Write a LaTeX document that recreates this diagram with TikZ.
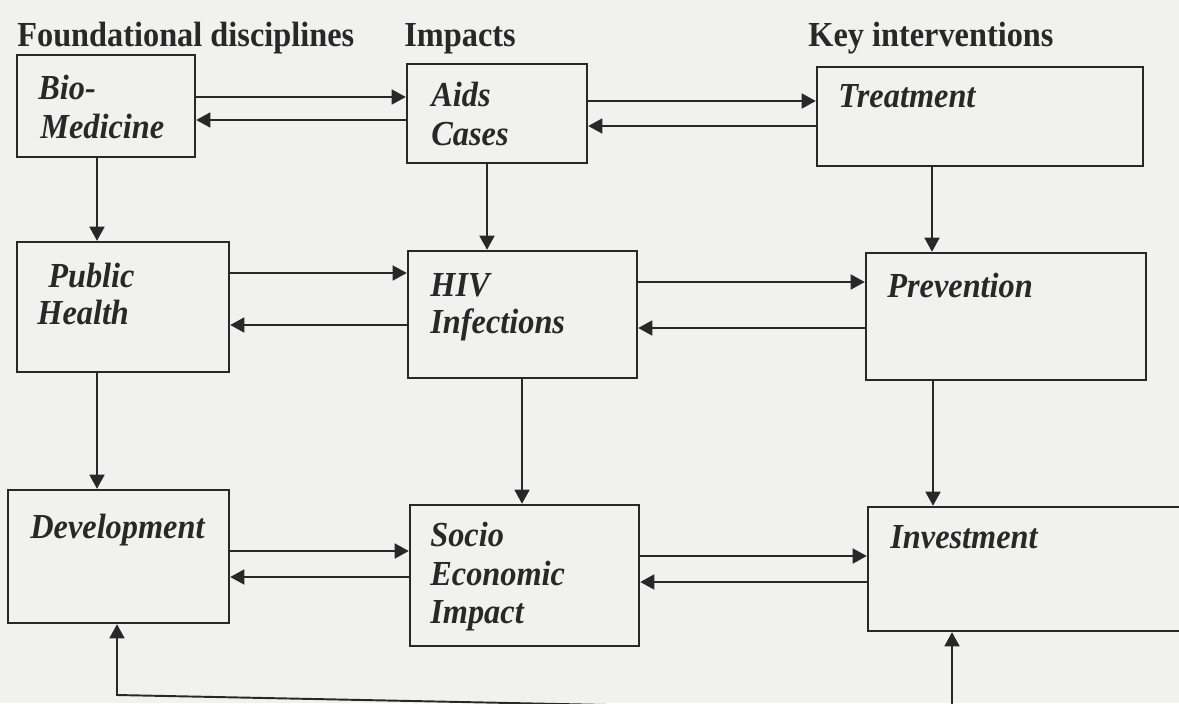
\documentclass[tikz,border=0pt]{standalone}
\usepackage{fontspec}
\setmainfont{Liberation Serif}[FakeStretch=0.92]
\usetikzlibrary{arrows.meta,fit}
\definecolor{paper}{RGB}{241,241,240}
\definecolor{ink}{RGB}{40,40,40}
\tikzset{
  box/.style={draw=ink, line width=1.4pt, inner sep=0pt},
  lbl/.style={anchor=base west, inner sep=0pt, text=ink, font=\fontsize{20}{24}\selectfont\bfseries\itshape},
  hdr/.style={anchor=base west, inner sep=0pt, text=ink, font=\fontsize{20}{24}\selectfont\bfseries},
  tip/.style={Triangle[length=8pt,width=8.5pt]},
  arr/.style={draw=ink, line width=1.1pt, -{Triangle[length=8pt,width=8.5pt]}},
  arr2/.style={draw=ink, line width=1.1pt, {Triangle[length=8pt,width=8.5pt]}-{Triangle[length=8pt,width=8.5pt]}}
}
\begin{document}
\begin{tikzpicture}[x=0.02cm,y=-0.02cm]
\useasboundingbox (0,0) rectangle (1179,703);
\clip (0,0) rectangle (1179,703);
\fill[paper] (0,0) rectangle (1179,703);

% headers
\node[hdr] (h1) at (17,46) {Foundational disciplines};
\node[hdr] (h2) at (404,46) {Impacts};
\node[hdr] (h3) at (808,46) {Key interventions};

% boxes
\node[box, fit={(17,55) (195,157)}] (bio) {};
\node[box, fit={(407,64) (587,163)}] (aids) {};
\node[box, fit={(817,67) (1143,166)}] (treat) {};
\node[box, fit={(17,242) (229,372)}] (pub) {};
\node[box, fit={(408,251) (637,378)}] (hiv) {};
\node[box, fit={(866,253) (1146,380)}] (prev) {};
\node[box, fit={(8,490) (229,623)}] (dev) {};
\node[box, fit={(410,505) (639,646)}] (socio) {};
\node[box, fit={(868,507) (1200,631)}] (inv) {};

% labels
\node[lbl] (bio1) at (38,99) {Bio-};
\node[lbl] (bio2) at (40,138) {Medicine};
\node[lbl] (aids1) at (431,106) {Aids};
\node[lbl] (aids2) at (431,145) {Cases};
\node[lbl] (treat1) at (838,107) {Treatment};
\node[lbl] (pub1) at (48,287) {Public};
\node[lbl] (pub2) at (37,324) {Health};
\node[lbl] (hiv1) at (430,296) {HIV};
\node[lbl] (hiv2) at (430,333) {Infections};
\node[lbl] (prev1) at (887,297) {Prevention};
\node[lbl] (dev1) at (30,538) {Development};
\node[lbl] (soc1) at (430,546) {Socio};
\node[lbl] (soc2) at (430,585) {Economic};
\node[lbl] (soc3) at (430,623) {Impact};
\node[lbl] (inv1) at (890,548) {Investment};

% horizontal pairs
\draw[arr] (bio.east |- 0,97) -- (aids.west |- 0,97);
\draw[arr] (aids.west |- 0,120) -- (bio.east |- 0,120);
\draw[arr] (aids.east |- 0,101) -- (treat.west |- 0,101);
\draw[arr] (treat.west |- 0,126) -- (aids.east |- 0,126);
\draw[arr] (pub.east |- 0,273) -- (hiv.west |- 0,273);
\draw[arr] (hiv.west |- 0,325) -- (pub.east |- 0,325);
\draw[arr] (hiv.east |- 0,282) -- (prev.west |- 0,282);
\draw[arr] (prev.west |- 0,328) -- (hiv.east |- 0,328);
\draw[arr] (dev.east |- 0,551) -- (socio.west |- 0,551);
\draw[arr] (socio.west |- 0,577) -- (dev.east |- 0,577);
\draw[arr] (socio.east |- 0,556) -- (inv.west |- 0,556);
\draw[arr] (inv.west |- 0,582) -- (socio.east |- 0,582);

% verticals
\draw[arr] (bio.south -| 97,0) -- (pub.north -| 97,0);
\draw[arr] (aids.south -| 487,0) -- (hiv.north -| 487,0);
\draw[arr] (treat.south -| 932,0) -- (prev.north -| 932,0);
\draw[arr] (pub.south -| 97,0) -- (dev.north -| 97,0);
\draw[arr] (hiv.south -| 522,0) -- (socio.north -| 522,0);
\draw[arr] (prev.south -| 933,0) -- (inv.north -| 933,0);

% bottom loop
\coordinate (br) at (952,712);
\coordinate (bl) at (117,695);
\draw[arr2] (inv.south -| 952,0) -- (br) -- (bl) -- (dev.south -| 117,0);
\end{tikzpicture}
\end{document}
